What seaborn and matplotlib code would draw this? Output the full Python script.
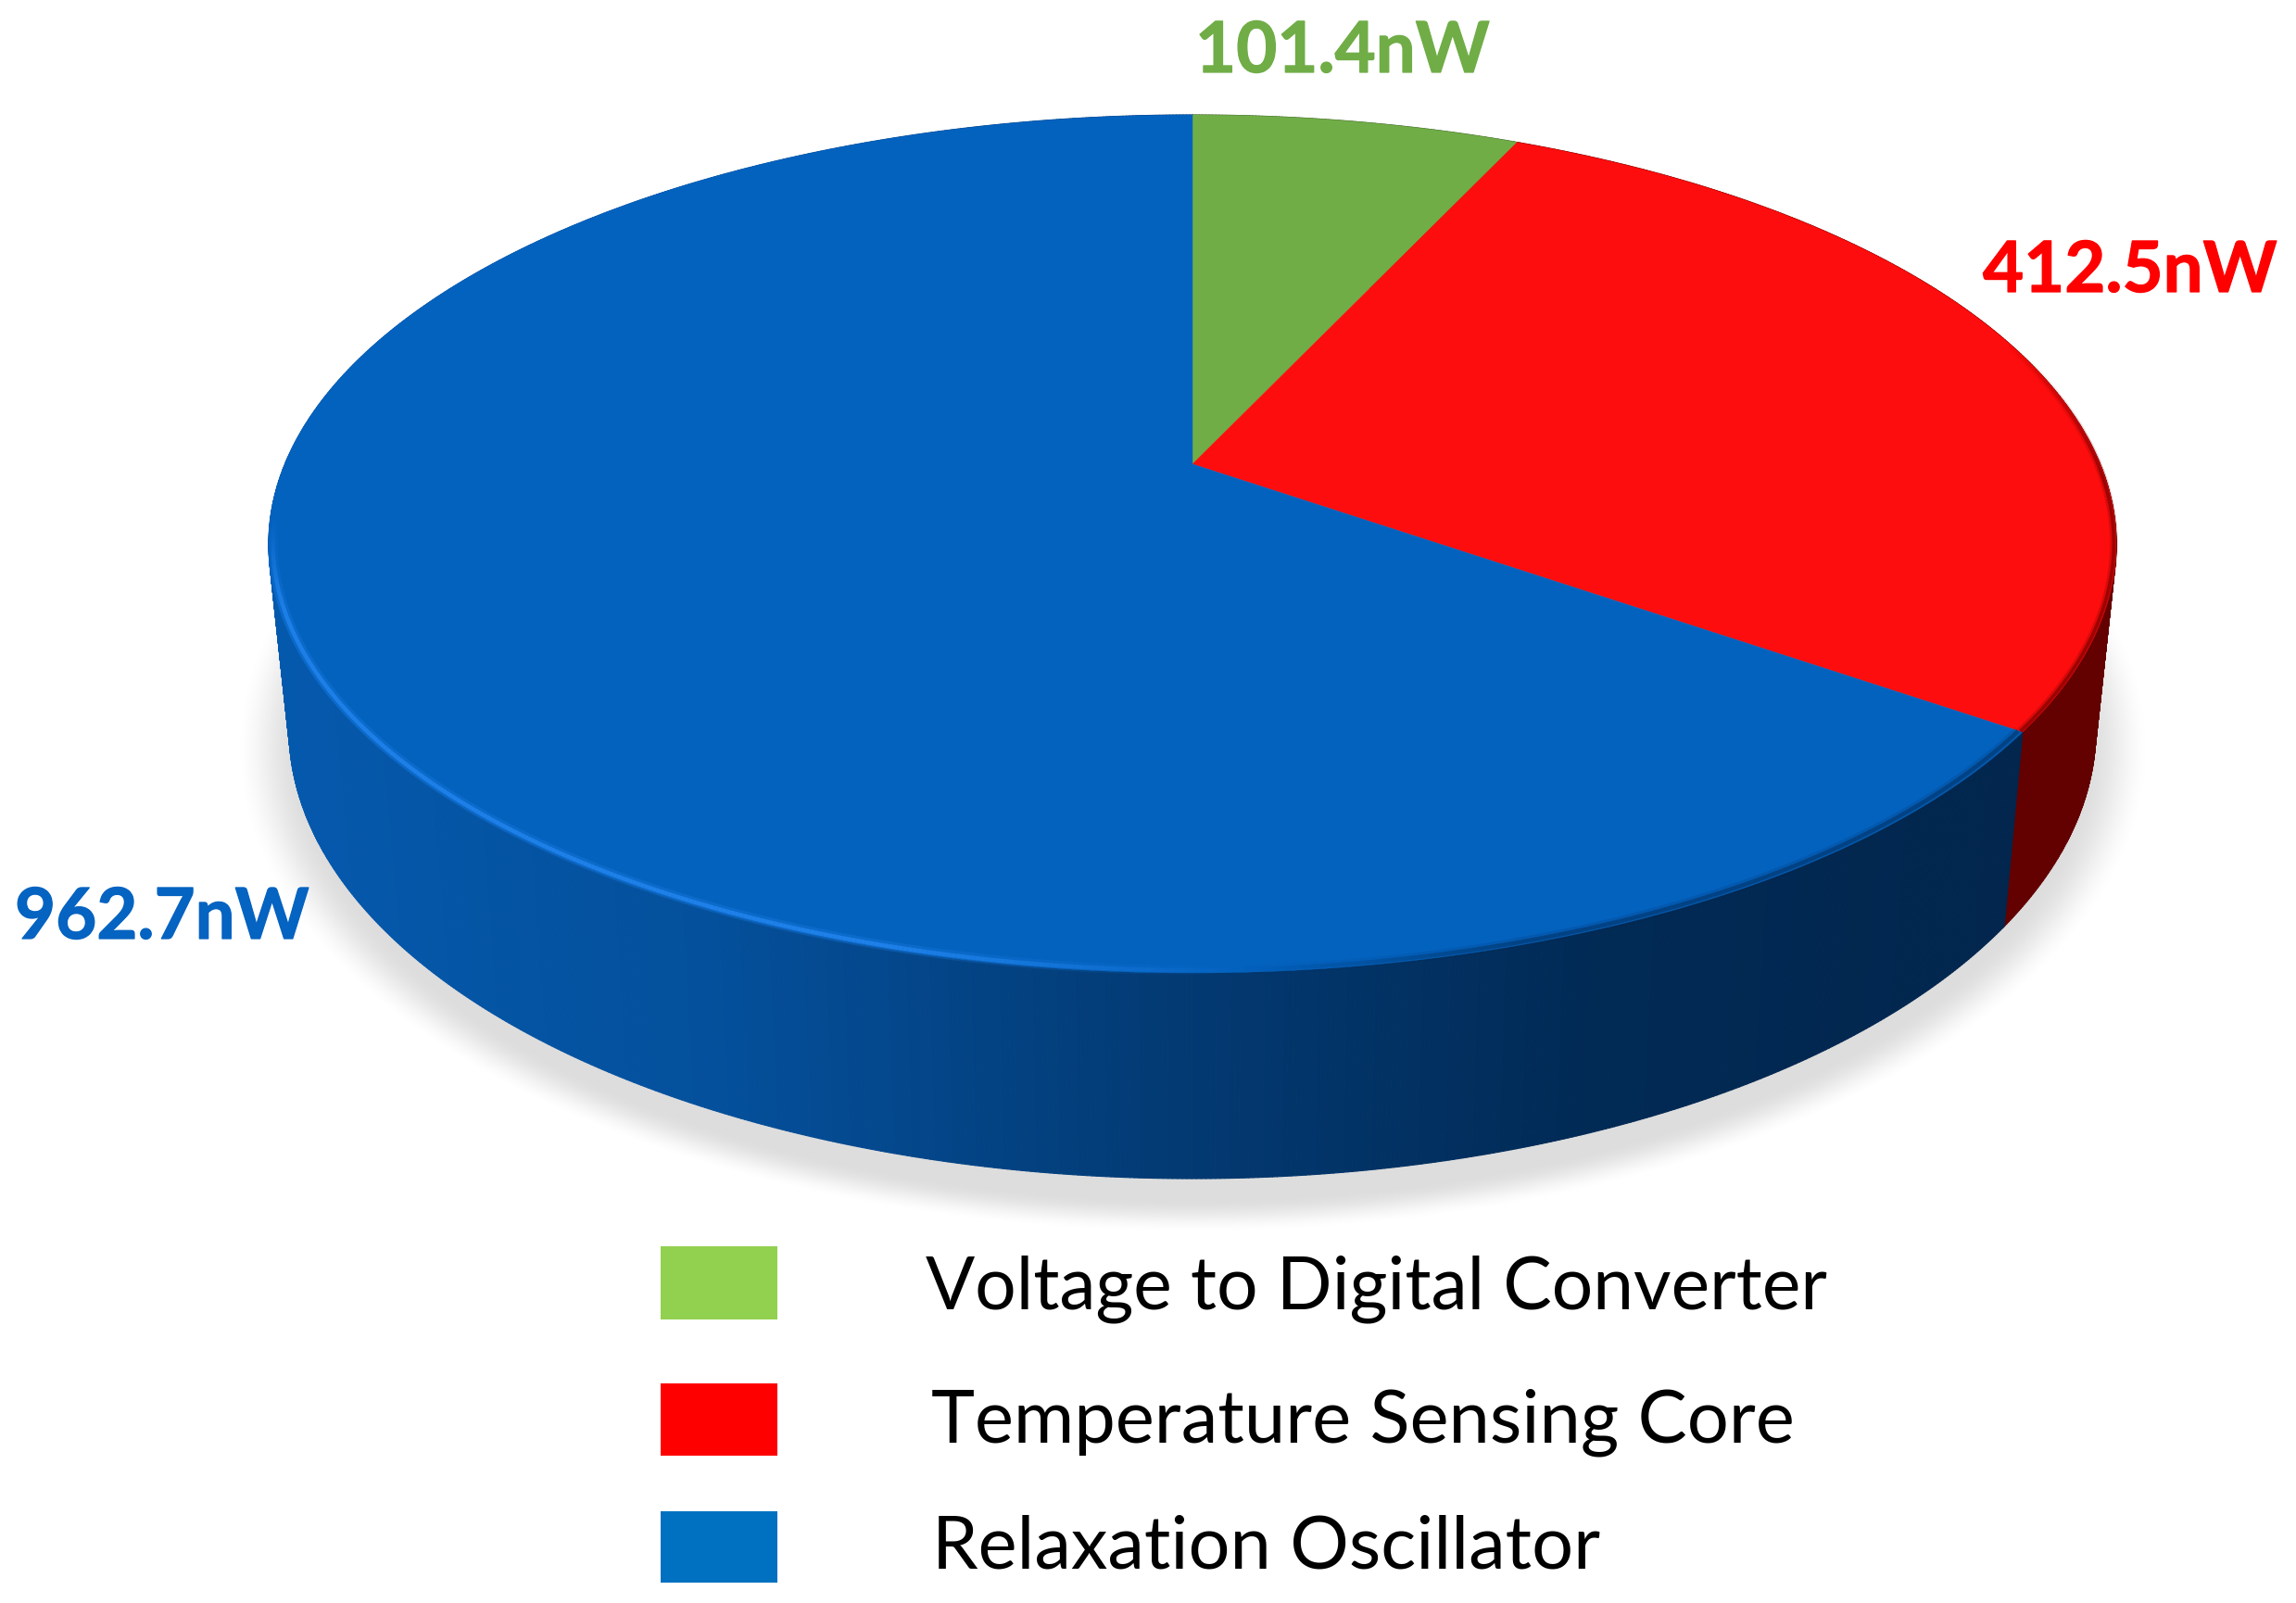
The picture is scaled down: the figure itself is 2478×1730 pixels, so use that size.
import numpy as np
import matplotlib
matplotlib.use("Agg")
import matplotlib.pyplot as plt
import matplotlib.patheffects as pe
import seaborn as sns
from matplotlib.collections import LineCollection, PolyCollection
from matplotlib.patches import Rectangle

# chart values
categories = ["Voltage to Digital Converter", "Temperature Sensing Core", "Relaxation Oscillator"]
power_nw = [101.4, 412.5, 962.7]
value_labels = ["101.4nW", "412.5nW", "962.7nW"]

top_colors = ["#70AD47", "#FD0D0D", "#0462BF"]
legend_colors = ["#92D050", "#FF0000", "#0070C0"]
label_colors = ["#70AD47", "#FF0000", "#0563C1"]

sns.set_theme(style="white")
plt.rcParams["font.family"] = ["Lato", "DejaVu Sans"]

W, H = 2478, 1731
fig = plt.figure(figsize=(W / 100, H / 100), dpi=100)
ax = fig.add_axes([0, 0, 1, 1])
ax.set_xlim(0, W)
ax.set_ylim(H, 0)
ax.axis("off")

# geometry of the disc in pixels
TOP = (1287, 588, 997, 463)
BOTTOM = (1287, 788, 975, 485)
PERSP = 0.186


def project(theta, ell, scale=1.0):
    # theta in degrees clockwise from 12 o'clock, circle seen in perspective
    cx, cy, rx, ry = ell
    t = np.radians(theta)
    x, y = np.sin(t) * scale, np.cos(t) * scale
    d = 1 + PERSP * y
    return cx + rx * x * np.sqrt(1 - PERSP**2) / d, cy - ry * (y + PERSP) / d


edges = np.concatenate([[0], np.cumsum(power_nw)]) / np.sum(power_nw) * 360

# soft shadow under the disc
yy, xx = np.mgrid[0:H, 0:W]
r = np.hypot((xx - 1287) / 982, (yy - 808) / 497)
soft = np.clip((1.055 - r) / 0.075, 0, 1)
shadow = np.zeros((H, W, 4))
shadow[..., 3] = 0.135 * soft * soft * (3 - 2 * soft)
ax.imshow(shadow, extent=(0, W, H, 0), zorder=1, aspect="auto")
ax.set_xlim(0, W)
ax.set_ylim(H, 0)

# side wall, blue gets a left to right gradient
blue_stops = ["#0559AD", "#04509C", "#033B75", "#012A55", "#02264D"]
blue_ramp = sns.blend_palette(blue_stops, n_colors=256)


def side_color(i, x):
    if i == 1:
        return "#630000"
    if i == 0:
        return "#3C5A28"
    k = int(np.clip((x - 300) / (2180 - 300), 0, 1) * 255)
    return blue_ramp[k]


for i in range(3):
    thetas = np.arange(edges[i], edges[i + 1] + 0.25, 0.25)
    tx, ty = project(thetas, TOP)
    bx, by = project(thetas, BOTTOM)
    quads, cols = [], []
    for j in range(len(thetas) - 1):
        quads.append([(tx[j], ty[j]), (tx[j + 1], ty[j + 1]), (bx[j + 1], by[j + 1]), (bx[j], by[j])])
        cols.append(side_color(i, (bx[j] + bx[j + 1]) / 2))
    ax.add_collection(PolyCollection(quads, facecolors=cols, edgecolors=cols, linewidths=0.8, zorder=2))

# top face
ax_cx, ax_cy = project(np.array([0.0]), TOP, scale=0.0)
for i in range(3):
    thetas = np.linspace(edges[i], edges[i + 1], 400)
    px, py = project(thetas, TOP)
    ax.fill(
        np.r_[ax_cx, px],
        np.r_[ax_cy, py],
        color=top_colors[i],
        lw=0.3,
        zorder=3,
    )

# rim highlight on the blue slice, dark rim on the right
thetas = np.linspace(edges[2], 360, 900)
px, py = project(thetas, TOP, scale=0.9955)
segs = np.stack([np.c_[px[:-1], py[:-1]], np.c_[px[1:], py[1:]]], axis=1)
mid_x = (px[:-1] + px[1:]) / 2
mid_y = (py[:-1] + py[1:]) / 2
rim_rgba = np.zeros((len(segs), 4))
left = mid_x < 1340
fade_in = np.clip((mid_y - 560) / 100, 0, 1)
fade_out = np.clip((1340 - mid_x) / 380, 0, 1)
rim_rgba[left, :3] = matplotlib.colors.to_rgb("#2386F0")
rim_rgba[left, 3] = (fade_in * fade_out)[left]
rim_rgba[~left, :3] = matplotlib.colors.to_rgb("#02264D")
rim_rgba[~left, 3] = np.clip((mid_x - 1340) / 300, 0, 1)[~left] * 0.55
for lw, alpha in [(7.5, 0.25), (3.2, 0.8)]:
    c = rim_rgba.copy()
    c[:, 3] *= alpha
    ax.add_collection(LineCollection(segs, colors=c, linewidths=lw, zorder=4, capstyle="butt"))

thetas = np.linspace(72, edges[2], 300)
px, py = project(thetas, TOP, scale=0.9975)
segs = np.stack([np.c_[px[:-1], py[:-1]], np.c_[px[1:], py[1:]]], axis=1)
red_a = np.clip((thetas[:-1] - 72) / 20, 0, 1)
c = np.zeros((len(segs), 4))
c[:, :3] = matplotlib.colors.to_rgb("#630000")
for lw, alpha in [(6.0, 0.22), (2.6, 0.55)]:
    c[:, 3] = red_a * alpha
    ax.add_collection(LineCollection(segs, colors=c.copy(), linewidths=lw, zorder=4, capstyle="butt"))


def fit_text(x, y, s, width, color, weight, thicken=0):
    t = ax.text(x, y, s, color=color, fontweight=weight, fontsize=50, va="baseline", ha="left", zorder=6)
    box = t.get_window_extent(fig.canvas.get_renderer())
    t.set_fontsize(50 * width / box.width)
    if thicken:
        t.set_path_effects([pe.withStroke(linewidth=thicken, foreground=color)])
    return t


# value labels
value_pos = [(1290, 79), (2140, 316), (16, 1014)]
for (x, y), s, col in zip(value_pos, value_labels, label_colors):
    fit_text(x, y, s, 318, col, "bold", thicken=0.9)

# legend
legend_boxes = [(1346, 1425), (1494, 1572), (1632, 1709)]
legend_text = [(999, 1412, 973), (1005, 1556, 931), (1006, 1693, 720)]
for (y0, y1), col, (x, y, w), s in zip(legend_boxes, legend_colors, legend_text, categories):
    ax.add_patch(Rectangle((713, y0), 126, y1 - y0, facecolor=col, edgecolor="none", zorder=5))
    fit_text(x, y, s, w, "black", "normal")

fig.savefig("out.png", dpi=100, facecolor="white")
